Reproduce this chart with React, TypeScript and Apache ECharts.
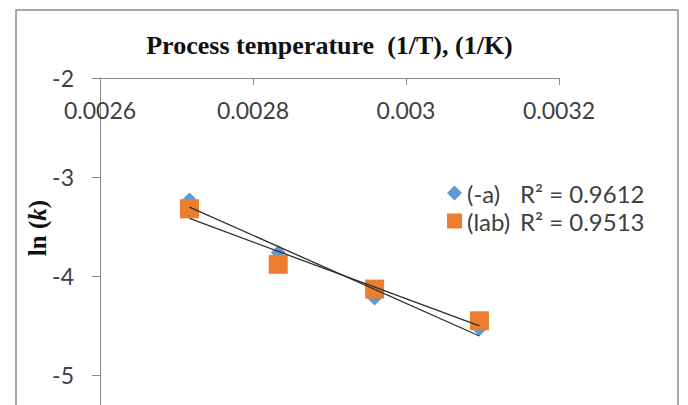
import React, { useEffect, useRef } from "react";
import * as echarts from "echarts";

// 1/T values (1/K)
const invT = [0.002717, 0.002833, 0.002959, 0.003096];
// ln(k) values
const lnK_a = [-3.23, -3.76, -4.22, -4.53];
const lnK_lab = [-3.32, -3.88, -4.13, -4.45];
const seriesNames = ["(-a)", "(lab)"];
const r2Labels = ["R² = 0.9612", "R² = 0.9513"];
const yTicks = [-2, -3, -4, -5];

function linearFit(xs: number[], ys: number[]): number[][] {
  const n = xs.length;
  const mx = xs.reduce((a, b) => a + b, 0) / n;
  const my = ys.reduce((a, b) => a + b, 0) / n;
  let sxy = 0;
  let sxx = 0;
  for (let i = 0; i < n; i++) {
    sxy += (xs[i] - mx) * (ys[i] - my);
    sxx += (xs[i] - mx) * (xs[i] - mx);
  }
  const b = sxy / sxx;
  const a = my - b * mx;
  const x0 = Math.min(...xs);
  const x1 = Math.max(...xs);
  return [
    [x0, a + b * x0],
    [x1, a + b * x1],
  ];
}

export default function App() {
  const ref = useRef<HTMLDivElement>(null);
  useEffect(() => {
    if (!ref.current) return;
    const chart = echarts.init(ref.current, null, { renderer: "svg" });
    const axisColor = "#8a8a8a";
    const labelFont = "Lato";
    const option: any = {
      animation: false,
      backgroundColor: "#ffffff",
      grid: { left: 100, top: 78, width: 459, height: 328, containLabel: false },
      xAxis: {
        type: "value",
        position: "top",
        min: 0.0026,
        max: 0.0032,
        interval: 0.0002,
        name: "Process temperature  (1/T), (1/K)",
        nameLocation: "middle",
        nameGap: 20,
        nameTextStyle: {
          fontFamily: "Liberation Serif",
          fontWeight: "bold",
          fontSize: 26,
          color: "#111",
        },
        axisLine: { onZero: false, lineStyle: { color: axisColor, width: 1 } },
        axisTick: { inside: true, length: 7, lineStyle: { color: axisColor } },
        axisLabel: {
          inside: true,
          margin: 20,
          fontFamily: labelFont,
          fontSize: 23,
          color: "#404040",
          formatter: (v: number) => String(parseFloat(v.toFixed(4))),
        },
        splitLine: { show: false },
      },
      yAxis: {
        type: "value",
        min: -5.3,
        max: -2,
        axisLine: { show: true, onZero: false, lineStyle: { color: axisColor, width: 1 } },
        axisTick: { show: true, length: 8, customValues: yTicks, lineStyle: { color: axisColor } },
        axisLabel: {
          customValues: yTicks,
          margin: 26,
          fontFamily: labelFont,
          fontSize: 23,
          color: "#404040",
        },
        splitLine: { show: false },
      },
      legend: {
        orient: "vertical",
        left: 442,
        top: 176,
        itemWidth: 15,
        itemHeight: 15,
        itemGap: 4,
        data: [
          { name: seriesNames[0], icon: "diamond" },
          { name: seriesNames[1], icon: "rect" },
        ],
        formatter: (name: string) => {
          const i = seriesNames.indexOf(name);
          return "{n|" + name + "}{r|" + r2Labels[i] + "}";
        },
        textStyle: {
          rich: {
            n: { fontFamily: labelFont, fontSize: 24, color: "#404040", width: 53 },
            r: { fontFamily: labelFont, fontSize: 24, color: "#404040" },
          },
        },
      },
      graphic: [
        {
          type: "rect",
          silent: true,
          z: -10,
          shape: { x: 16, y: 10, width: 662, height: 430 },
          style: { fill: "none", stroke: "#8c8c8c", lineWidth: 1.5 },
        },
        {
          type: "text",
          x: 37,
          y: 228,
          rotation: Math.PI / 2,
          style: {
            text: "{b|ln (}{i|k}{b|)}",
            align: "center",
            verticalAlign: "middle",
            rich: {
              b: { fontFamily: "Liberation Serif", fontWeight: "bold", fontSize: 25, fill: "#111" },
              i: {
                fontFamily: "Liberation Serif",
                fontWeight: "bold",
                fontStyle: "italic",
                fontSize: 25,
                fill: "#111",
              },
            },
          },
        },
      ],
      series: [
        {
          name: seriesNames[0],
          type: "scatter",
          symbol: "diamond",
          symbolSize: 15,
          itemStyle: { color: "#5B9BD5", opacity: 1 },
          data: invT.map((x, i) => [x, lnK_a[i]]),
          z: 2,
        },
        {
          name: seriesNames[1],
          type: "scatter",
          symbol: "rect",
          symbolSize: 19,
          itemStyle: { color: "#ED7D31", opacity: 1 },
          data: invT.map((x, i) => [x, lnK_lab[i]]),
          z: 3,
        },
        {
          name: "trend-a",
          type: "line",
          showSymbol: false,
          symbol: "none",
          lineStyle: { color: "#2b2b2b", width: 1.3 },
          data: linearFit(invT, lnK_a),
          z: 4,
        },
        {
          name: "trend-lab",
          type: "line",
          showSymbol: false,
          symbol: "none",
          lineStyle: { color: "#2b2b2b", width: 1.3 },
          data: linearFit(invT, lnK_lab),
          z: 4,
        },
      ],
    };
    chart.setOption(option);
    return () => chart.dispose();
  }, []);
  return (
    <div
      ref={ref}
      style={{ position: "absolute", left: 0, top: 0, width: 688, height: 405 }}
    />
  );
}
